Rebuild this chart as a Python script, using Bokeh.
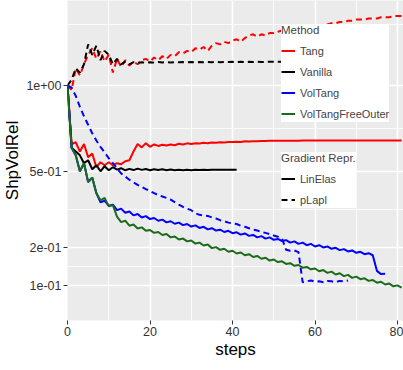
import numpy as np
from bokeh.plotting import figure
from bokeh.models import FixedTicker, Legend, LegendItem, Range1d
from bokeh.embed import file_html
from bokeh.resources import INLINE

# ---------------- data (ShpVolRel per step) ----------------
tang_lin = [1.0, .64, .65, .60, .64, .57, .59, .52, .545, .53, .545, .53, .54, .535, .55, .555, .60, .64, .622, .645,
            .625, .638, .63, .636, .632, .638, .634, .642, .638, .644, .64, .645, .643, .647, .645, .649, .647, .65, .649, .652,
            .651, .653, .652, .655, .654, .656, .656, .657, .657, .658, .658, .659, .659, .659, .659, .659, .659, .66, .66, .66,
            .66, .66, .66, .66, .66, .66, .66, .66, .66, .66, .66, .66, .66, .66, .66, .66, .66, .66, .66, .66, .66, .66]
tang_plapl = [1.0, .97, 1.12, 1.07, 1.15, 1.22, 1.27, 1.19, 1.25, 1.17, 1.22, 1.09, 1.19, 1.13, 1.18, 1.14, 1.17, 1.15, 1.18, 1.19,
              1.17, 1.2, 1.18, 1.21, 1.19, 1.22, 1.21, 1.24, 1.23, 1.25, 1.24, 1.27, 1.26, 1.28, 1.25, 1.29, 1.31, 1.3, 1.32, 1.31,
              1.33, 1.34, 1.32, 1.35, 1.37, 1.38, 1.36, 1.38, 1.37, 1.39, 1.39, 1.4, 1.41, 1.41, 1.42, 1.42, 1.43, 1.43, 1.44, 1.44,
              1.45, 1.45, 1.46, 1.46, 1.47, 1.47, 1.48, 1.48, 1.49, 1.49, 1.5, 1.5, 1.5, 1.51, 1.51, 1.51, 1.52, 1.52, 1.52, 1.53,
              1.53, 1.53]
vanilla_lin = [1.0, .62, .60, .58, .54, .555, .51, .53, .50, .525, .505, .52, .508, .515, .505, .512, .506, .513, .507, .511,
               .505, .51, .506, .51, .505, .509, .505, .508, .505, .507, .505, .508, .506, .508, .506, .508, .507, .508, .507, .508,
               .508, .508]
vanilla_plapl = [1.0, 1.04, 1.12, 1.09, 1.15, 1.3, 1.22, 1.29, 1.18, 1.25, 1.22, 1.15, 1.19, 1.15, 1.17, 1.15, 1.165, 1.16, 1.165, 1.16,
                 1.165, 1.162, 1.166, 1.163, 1.166, 1.163, 1.166, 1.164, 1.166, 1.164, 1.166, 1.164, 1.166, 1.165, 1.167, 1.165, 1.167, 1.165, 1.167, 1.166,
                 1.168, 1.166, 1.168, 1.166, 1.168, 1.167, 1.168, 1.167, 1.168, 1.168, 1.169, 1.168, 1.169, 1.169, 1.17, 1.17]
voltang_lin = [1.0, .62, .58, .50, .54, .45, .47, .40, .362, .368, .348, .352, .33, .336, .32, .325, .31, .315, .302, .307,
               .296, .30, .29, .294, .284, .288, .279, .283, .274, .278, .269, .273, .264, .268, .259, .263, .255, .258, .25, .254,
               .246, .249, .241, .245, .237, .24, .232, .236, .228, .232, .224, .227, .22, .223, .215, .219, .211, .215, .207, .211,
               .203, .207, .20, .203, .196, .199, .192, .195, .188, .191, .184, .187, .18, .183, .177, .135, .127, .128]
voltang_plapl = [1.0, .985, .93, .86, .80, .75, .70, .66, .625, .595, .565, .54, .515, .49, .475, .46, .448, .437, .427, .418,
                 .41, .40, .392, .386, .38, .373, .362, .352, .343, .336, .33, .318, .312, .31, .308, .302, .298, .292, .288, .283,
                 .28, .278, .272, .268, .263, .258, .255, .25, .247, .243, .238, .234, .228, .193, .19, .191, .186, .108, .11, .112,
                 .109, .11, .108, .111, .11, .108, .111, .11, .112]
voltangfree_lin = [1.0, .62, .58, .50, .54, .45, .47, .40, .37, .38, .345, .35, .305, .285, .29, .272, .276, .262, .266, .254,
                   .257, .247, .25, .24, .243, .232, .235, .225, .228, .219, .222, .212, .215, .206, .209, .198, .201, .193, .196, .187,
                   .19, .182, .185, .177, .18, .172, .175, .167, .17, .162, .165, .158, .16, .153, .155, .148, .15, .143, .145, .139,
                   .141, .134, .137, .13, .133, .126, .129, .122, .125, .118, .121, .115, .117, .111, .113, .107, .109, .103, .105, .099,
                   .101, .096]

methods = ["Tang", "Vanilla", "VolTang", "VolTangFreeOuter"]
method_colors = ["#FF0000", "#000000", "#0000FF", "#1B6B1B"]
reprs = ["LinElas", "pLapl"]
repr_dash = ["solid", "6 4"]

series = [  # (method index, repr index, values) in ggplot drawing order
    (0, 0, tang_lin), (0, 1, tang_plapl),
    (1, 0, vanilla_lin), (1, 1, vanilla_plapl),
    (2, 0, voltang_lin), (2, 1, voltang_plapl),
    (3, 0, voltangfree_lin),
]

y_breaks = [1.0, 0.5, 0.2, 0.1]
y_labels = ["1e+00", "5e-01", "2e-01", "1e-01"]
x_breaks = [0, 20, 40, 60, 80]
x_minor = [10, 30, 50, 70]

# sqrt scale (ggplot scale_y_sqrt)
ytick_pos = [float(np.sqrt(b)) for b in y_breaks]
ext = [float(np.sqrt(2.0))] + ytick_pos
yminor = [(ext[i] + ext[i + 1]) / 2 for i in range(len(ext) - 1)]

FONT = "Liberation Sans"

p = figure(width=403, height=370, output_backend="svg", toolbar_location=None,
           x_range=Range1d(0, 81.45), y_range=Range1d(0.198, 1.290),
           min_border_left=67, min_border_right=0, min_border_top=0, min_border_bottom=50)
p.background_fill_color = "#EBEBEB"
p.border_fill_color = "white"
p.outline_line_color = None

p.xaxis.ticker = FixedTicker(ticks=x_breaks, minor_ticks=x_minor)
p.yaxis.ticker = FixedTicker(ticks=ytick_pos, minor_ticks=yminor)
p.yaxis.major_label_overrides = {t: l for t, l in zip(ytick_pos, y_labels)}

for g in (p.xgrid, p.ygrid):
    g.grid_line_color = "white"
    g.grid_line_width = 1.6
    g.minor_grid_line_color = "white"
    g.minor_grid_line_width = 0.8

for ax in (p.xaxis, p.yaxis):
    ax.axis_line_color = None
    ax.major_tick_line_color = "#333333"
    ax.major_tick_in = 0
    ax.major_tick_out = 4
    ax.minor_tick_line_color = None
    ax.major_label_text_font = FONT
    ax.major_label_text_font_size = "12.5px"
    ax.major_label_text_color = "#333333"
    ax.major_label_standoff = 2
    ax.axis_label_text_font = FONT
    ax.axis_label_text_font_size = "17px"
    ax.axis_label_text_font_style = "normal"
    ax.axis_label_text_color = "black"
    ax.axis_label_standoff = 1
p.xaxis.axis_label = "steps"
p.yaxis.axis_label = "ShpVolRel"

rend = {}
for mi, ri, vals in series:
    steps = list(range(len(vals)))
    rend[(mi, ri)] = p.line(steps, np.sqrt(np.array(vals)), line_color=method_colors[mi],
                            line_dash=repr_dash[ri], line_width=2)


def style(leg):
    leg.title_text_font = FONT
    leg.title_text_font_size = "11.5px"
    leg.title_text_font_style = "normal"
    leg.title_standoff = 6
    leg.label_text_font = FONT
    leg.label_text_font_size = "11px"
    leg.label_height = 17
    leg.glyph_height = 17
    leg.glyph_width = 14
    leg.label_standoff = 5
    leg.spacing = 4
    leg.padding = 9
    leg.margin = 0
    leg.background_fill_color = "white"
    leg.background_fill_alpha = 1
    leg.border_line_color = None


leg1 = Legend(items=[LegendItem(label=m, renderers=[rend[(i, 0)]]) for i, m in enumerate(methods)],
              title="Method", location=(214, 198))
leg2 = Legend(items=[LegendItem(label=rp, renderers=[rend[(1, i)]]) for i, rp in enumerate(reprs)],
              title="Gradient Repr.", location=(214, 112))
style(leg1)
style(leg2)
p.add_layout(leg1)
p.add_layout(leg2)

open("out.html", "w").write(file_html(p, INLINE))
